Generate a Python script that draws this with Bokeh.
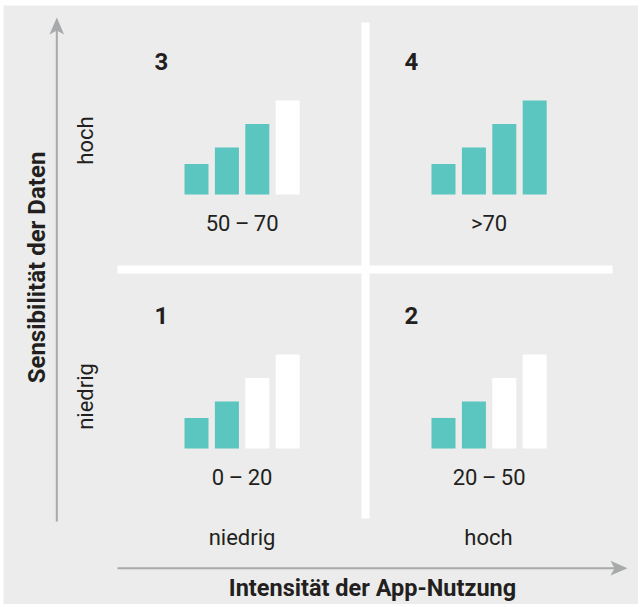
import math
from bokeh.plotting import figure
from bokeh.models import Range1d
from bokeh.core.properties import value
from bokeh.embed import file_html
from bokeh.resources import INLINE

# ---------------- data ----------------
quadrant_ids = ["1", "2", "3", "4"]
quadrant_ranges = ["0\u2009–\u200920", "20\u2009–\u200950", "50\u2009–\u200970", ">70"]
quadrant_col = [0, 1, 0, 1]          # 0 = niedrig, 1 = hoch (App-Nutzung)
quadrant_row = [1, 1, 0, 0]          # 0 = hoch, 1 = niedrig (Sensibilität)
filled_bars = [2, 2, 3, 4]           # number of teal bars per quadrant
bar_levels = [1.3, 2.0, 3.0, 4.0]    # relative bar heights
x_labels = ["niedrig", "hoch"]
y_labels = ["hoch", "niedrig"]
x_title = "Intensität der App-Nutzung"
y_title = "Sensibilität der Daten"

# ---------------- style / layout ----------------
BG = "#ebeceb"
TEAL = "#5bc5bf"
ARROW = "#a7a9ab"
TXT = "#231f20"
FONT = "Roboto"

W, H = 638, 604
def X(px):
    return px
def Y(py):
    return H - py

Q_LEFT0, Q_DX = 184, 247      # left edge of first bar, quadrant x-offset
Q_BASE0, Q_DY = 194, 254      # baseline of bars, quadrant y-offset
BAR_W, BAR_PITCH, UNIT = 24, 30.4, 23.5

p = figure(width=W, height=H, x_range=Range1d(0, W), y_range=Range1d(0, H),
           output_backend="svg", toolbar_location=None, min_border=0,
           x_axis_location=None, y_axis_location=None)
p.grid.visible = False
p.outline_line_color = None
p.background_fill_color = "white"
p.border_fill_color = "white"

# grey panel
p.quad(left=[X(3)], right=[X(W + 2)], top=[Y(5)], bottom=[Y(H + 2)],
       fill_color=BG, line_color=None)

# white dividers
p.quad(left=[X(361)], right=[X(369)], top=[Y(22)], bottom=[Y(518)],
       fill_color="white", line_color=None)
p.quad(left=[X(117)], right=[X(612)], top=[Y(265)], bottom=[Y(273)],
       fill_color="white", line_color=None)

# bars
bx, btop, bbot, bcol = [], [], [], []
for qi in range(len(quadrant_ids)):
    left0 = Q_LEFT0 + quadrant_col[qi] * Q_DX
    base = Q_BASE0 + quadrant_row[qi] * Q_DY
    for i, lv in enumerate(bar_levels):
        bx.append(X(left0 + i * BAR_PITCH + BAR_W / 2))
        bbot.append(Y(base))
        btop.append(Y(base) + lv * UNIT)
        bcol.append(TEAL if i < filled_bars[qi] else "white")
p.vbar(x=bx, width=BAR_W, top=btop, bottom=bbot, fill_color=bcol, line_color=None)

group_w = 3 * BAR_PITCH + BAR_W
cx = [X(Q_LEFT0 + c * Q_DX + group_w / 2) for c in quadrant_col]

# quadrant numbers
p.text(x=[X(154 + c * 250) for c in quadrant_col],
       y=[Y(61 + r * Q_DY) for r in quadrant_row],
       text=quadrant_ids, text_font=value(FONT), text_font_style="bold",
       text_font_size="24px", text_color=TXT, text_align="left",
       text_baseline="alphabetic")

# range labels
p.text(x=cx, y=[Y(223 + r * Q_DY) for r in quadrant_row], text=quadrant_ranges,
       text_font=value(FONT), text_font_size="22px", text_color=TXT,
       text_align="center", text_baseline="alphabetic")

# x category labels
p.text(x=[X(241.5), X(488)], y=[Y(537), Y(537)], text=x_labels,
       text_font=value(FONT), text_font_size="22px", text_color=TXT,
       text_align="center", text_baseline="alphabetic")
# y category labels
p.text(x=[X(85), X(85)], y=[Y(140), Y(396)], text=y_labels, angle=math.pi / 2,
       text_font=value(FONT), text_font_size="22px", text_color=TXT,
       text_align="center", text_baseline="middle")

# titles
p.text(x=[X(372)], y=[Y(587)], text=[x_title], text_font=value(FONT),
       text_font_style="bold", text_font_size="23.5px", text_color=TXT,
       text_align="center", text_baseline="alphabetic")
p.text(x=[X(36)], y=[Y(267)], text=[y_title], angle=math.pi / 2, text_font=value(FONT),
       text_font_style="bold", text_font_size="24px", text_color=TXT,
       text_align="center", text_baseline="middle")

# arrows
p.segment(x0=[X(56.3)], y0=[Y(521)], x1=[X(56.3)], y1=[Y(28)], line_color=ARROW, line_width=2)
p.patch(x=[X(56.3), X(49), X(56.3), X(63.6)], y=[Y(17), Y(34), Y(30), Y(34)],
        fill_color=ARROW, line_color=None)
p.segment(x0=[X(117)], y0=[Y(567.7)], x1=[X(616)], y1=[Y(567.7)], line_color=ARROW, line_width=2)
p.patch(x=[X(627), X(610), X(614), X(610)], y=[Y(567.7), Y(560.3), Y(567.7), Y(575.1)],
        fill_color=ARROW, line_color=None)

open("out.html", "w").write(file_html(p, INLINE))
